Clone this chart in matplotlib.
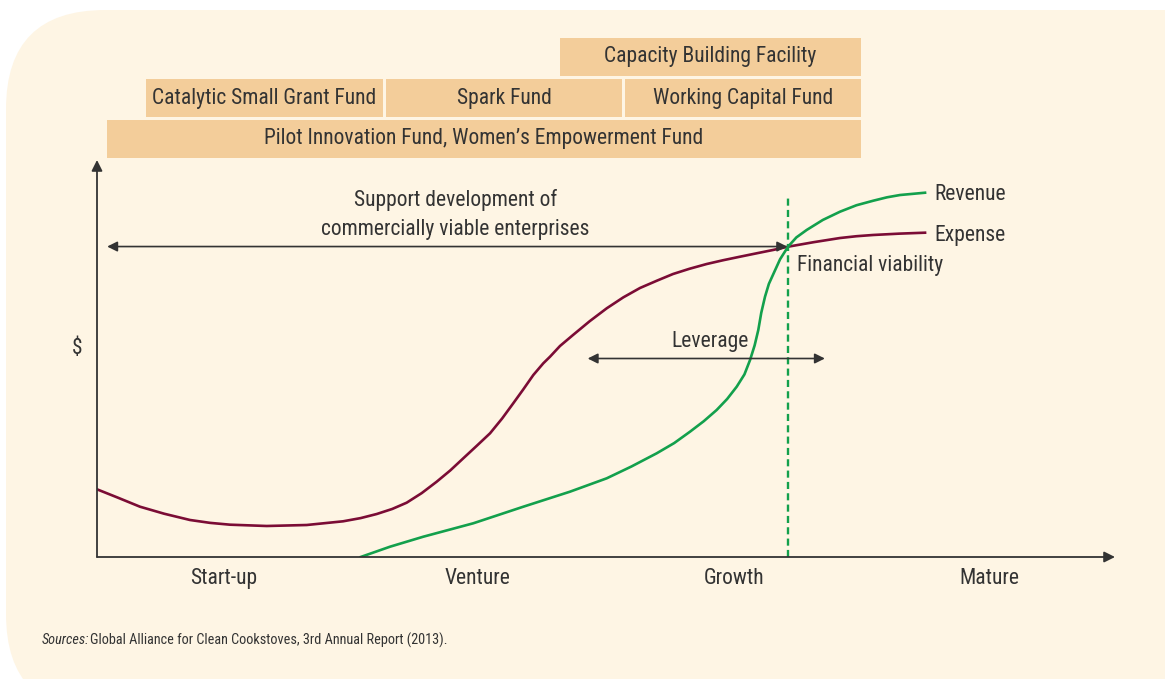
import matplotlib
matplotlib.use("Agg")
import matplotlib.pyplot as plt
from matplotlib.patches import FancyBboxPatch

plt.rcParams['font.family'] = ['Roboto Condensed', 'Archivo Narrow',
                               'Liberation Sans', 'DejaVu Sans']

# stage labels on the x axis
stages = ['Start-up', 'Venture', 'Growth', 'Mature']
stage_pos = [12.4, 37.4, 62.6, 87.7]

# expense curve (x, $)
exp_x = [0, 2.0, 4.22, 6.6, 9.14, 11.1, 13.06, 16.67, 20.60, 24.17, 25.9,
         27.48, 29.0, 30.42, 31.9, 33.37, 34.7, 35.98, 37.3, 38.61, 39.8,
         40.89, 41.88, 42.86, 43.84, 44.50, 45.48, 46.76, 48.4, 50.07, 51.7,
         53.34, 55.0, 56.58, 58.2, 59.89, 61.5, 63.16, 64.8, 66.40, 67.88,
         70.4, 72.99, 74.6, 76.23, 78.8, 81.34]
exp_y = [17.05, 15.0, 12.67, 10.9, 9.32, 8.6, 8.14, 7.81, 8.06, 8.99, 9.8,
         10.83, 12.1, 13.68, 16.1, 18.97, 21.8, 24.86, 28.0, 31.16, 34.9,
         38.72, 42.24, 45.84, 48.79, 50.45, 53.15, 55.92, 59.4, 62.64, 65.4,
         67.76, 69.6, 71.28, 72.6, 73.80, 74.75, 75.64, 76.5, 77.33, 78.16,
         79.3, 80.35, 80.8, 81.11, 81.45, 81.69]

# revenue curve
rev_x = [25.90, 28.78, 32.05, 36.96, 41.88, 46.46, 50.07, 52.5, 54.98, 56.7,
         58.25, 59.6, 60.87, 61.9, 62.84, 63.60, 64.15, 64.60, 64.96, 65.25,
         65.62, 66.00, 66.47, 67.10, 67.88, 68.70, 69.71, 71.3, 72.99, 74.6,
         76.26, 77.6, 78.88, 81.34]
rev_y = [0, 2.59, 5.11, 8.49, 12.67, 16.45, 19.82, 22.8, 26.12, 28.7,
         31.56, 34.2, 37.03, 39.8, 42.90, 46.00, 49.62, 53.30, 57.18, 61.50,
         65.57, 68.80, 71.46, 75.00, 78.16, 80.50, 82.37, 84.9, 86.98, 88.6,
         89.75, 90.6, 91.18, 91.76]

viability_x = 67.88

# fund boxes: label, start, end, row
funds = ['Pilot Innovation Fund, Women\u2019s Empowerment Fund',
         'Catalytic Small Grant Fund', 'Spark Fund', 'Working Capital Fund',
         'Capacity Building Facility']
fund_start = [0.98, 4.81, 28.39, 51.87, 45.48]
fund_end = [75.05, 28.09, 51.57, 75.05, 75.05]
fund_row = [0, 1, 1, 1, 2]

panel = '#fef5e4'
box_col = '#f3cd9a'
maroon = '#7b0c35'
green = '#13a04c'
txt = '#333333'
fs = 15.5

W, H = 1165, 679
fig = plt.figure(figsize=(W / 100, H / 100), dpi=100)
fig.patch.set_facecolor('white')

bg = FancyBboxPatch((6 / W, -0.05), 1.2, (H - 10) / H + 0.05,
                    boxstyle='round,pad=0,rounding_size=0.085',
                    transform=fig.transFigure, facecolor=panel,
                    edgecolor='none', mutation_aspect=W / H, zorder=-5)
fig.patches.append(bg)

ax = fig.add_axes([97 / W, (H - 557) / H, 1018 / W, 527 / H])
ax.set_xlim(0, 100)
ax.set_ylim(0, 527 / 397 * 100)
ax.patch.set_alpha(0)
for s in ax.spines.values():
    s.set_visible(False)
ax.set_yticks([])
ax.set_xticks(stage_pos)
ax.set_xticklabels(stages, fontsize=fs, color=txt)
ax.tick_params(axis='x', length=0, pad=8)

# boxes
row_bottom = [100.5, 110.8, 121.2]
row_h = 9.6
for lab, a, b, r in zip(funds, fund_start, fund_end, fund_row):
    ax.bar(a, row_h, width=b - a, bottom=row_bottom[r], align='edge',
           color=box_col, edgecolor='none')
    ax.text((a + b) / 2, row_bottom[r] + row_h / 2, lab, ha='center',
            va='center', fontsize=fs, color=txt)

# axes arrows
ap = dict(arrowstyle='-|>', color=txt, lw=1.3, mutation_scale=16,
          shrinkA=0, shrinkB=0)
ax.annotate('', xy=(100, 0), xytext=(0, 0), arrowprops=ap, annotation_clip=False)
ax.annotate('', xy=(0, 100), xytext=(0, 0), arrowprops=ap, annotation_clip=False)
ax.text(-2, 52.4, '$', ha='center', va='center', fontsize=fs, color=txt)

# curves
ax.plot(exp_x, exp_y, color=maroon, lw=1.9, solid_joinstyle='round')
ax.plot(rev_x, rev_y, color=green, lw=1.9, solid_joinstyle='round')
ax.plot([viability_x, viability_x], [0, 91], color=green, lw=1.7,
        ls=(0, (3, 1.8)))

# double arrows
dap = dict(arrowstyle='<|-|>', color=txt, lw=1.2, mutation_scale=15,
           shrinkA=0, shrinkB=0)
ax.annotate('', xy=(1.0, 78.2), xytext=(67.8, 78.2), arrowprops=dap)
ax.annotate('', xy=(48.2, 50.0), xytext=(71.5, 50.0), arrowprops=dap)

ax.text(35.2, 86.2, 'Support development of\ncommercially viable enterprises',
        ha='center', va='center', fontsize=fs, color=txt, linespacing=1.5)
ax.text(60.2, 54.4, 'Leverage', ha='center', va='center', fontsize=fs, color=txt)
ax.text(82.3, 91.2, 'Revenue', ha='left', va='center', fontsize=fs, color=txt)
ax.text(82.3, 81.1, 'Expense', ha='left', va='center', fontsize=fs, color=txt)
ax.text(68.8, 73.3, 'Financial viability', ha='left', va='center',
        fontsize=fs, color=txt)

src = fig.text(42 / W, 1 - 640 / H, 'Sources:', fontsize=10.3, style='italic',
               color=txt, va='center')
ax.annotate('Global Alliance for Clean Cookstoves, 3rd Annual Report (2013).',
            xy=(1, 0.5), xycoords=src, xytext=(0.8, 0), textcoords='offset points',
            va='center', fontsize=10.3, color=txt)

fig.savefig('out.png', dpi=100, facecolor='white')
